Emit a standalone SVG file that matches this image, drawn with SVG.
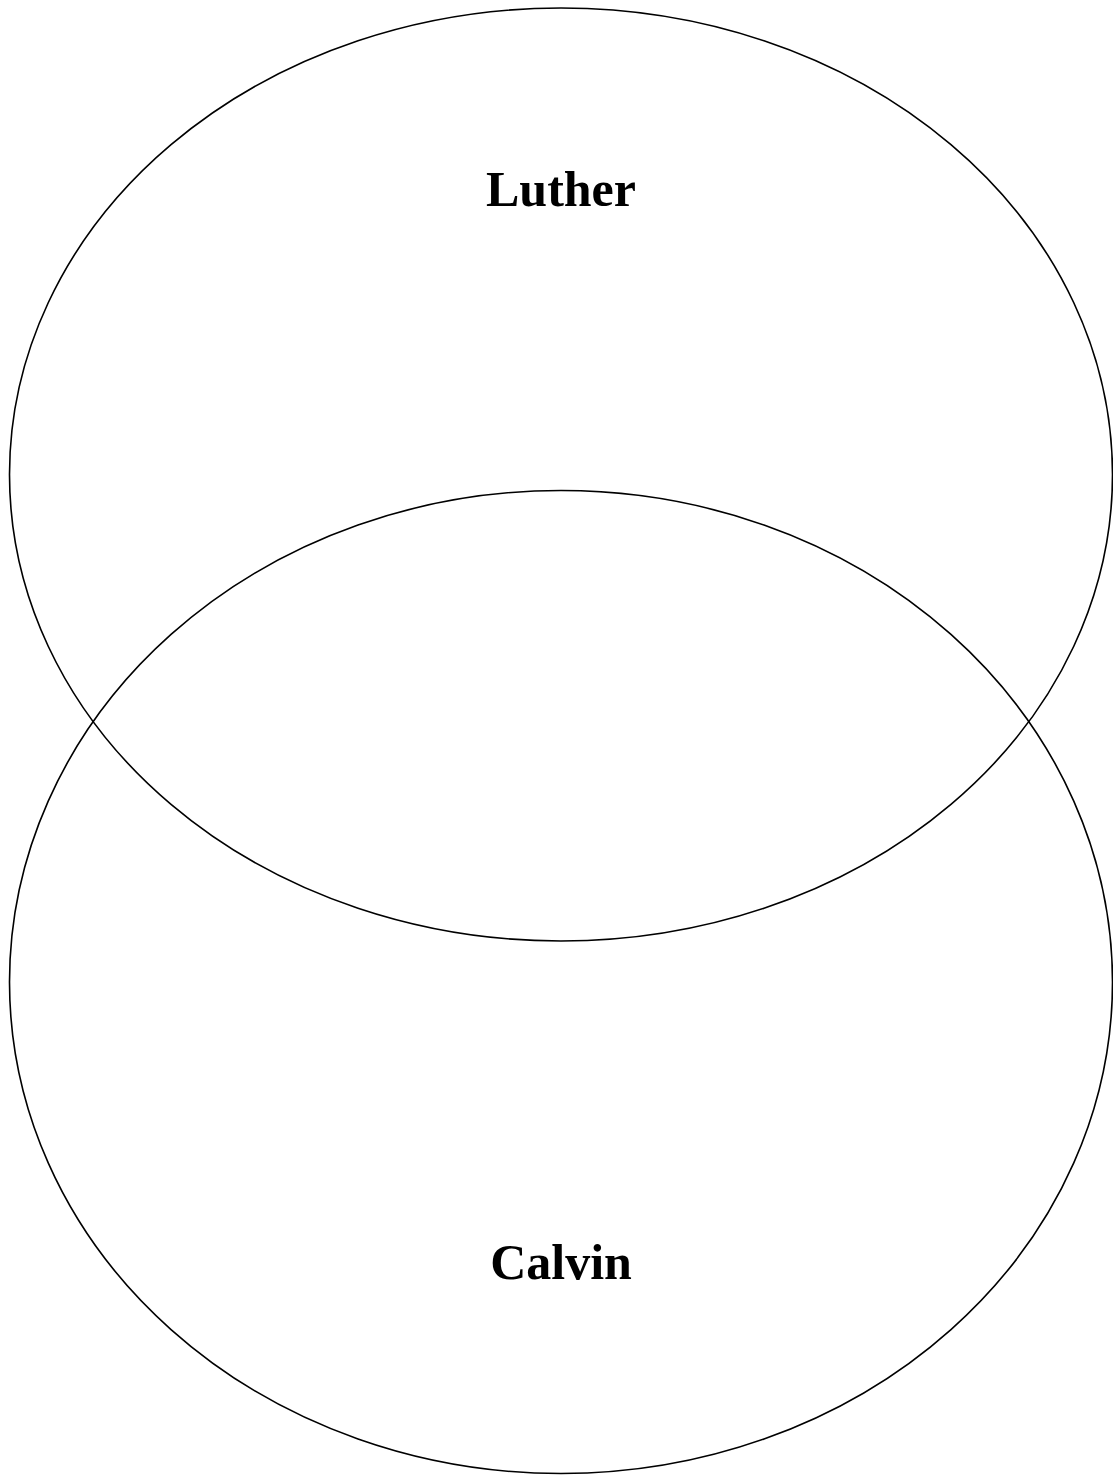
<svg xmlns="http://www.w3.org/2000/svg" width="1113" height="1475" viewBox="0 0 1113 1475">
<style>
.venn{fill:none;stroke:#000;stroke-width:1.6}
.lbl{font-family:"Liberation Serif","DejaVu Serif",serif;font-weight:bold;font-size:50px;text-anchor:middle;fill:#000}
</style>
<rect width="1113" height="1475" fill="#fff"/>
<g id="luther">
<ellipse class="venn" cx="561" cy="474.5" rx="551.5" ry="466.5"/>
<text class="lbl" x="561" y="206">Luther</text>
</g>
<g id="calvin">
<ellipse class="venn" cx="561" cy="982" rx="551.5" ry="491.5"/>
<text class="lbl" x="561" y="1279">Calvin</text>
</g>
<g id="connectors"></g>
</svg>
